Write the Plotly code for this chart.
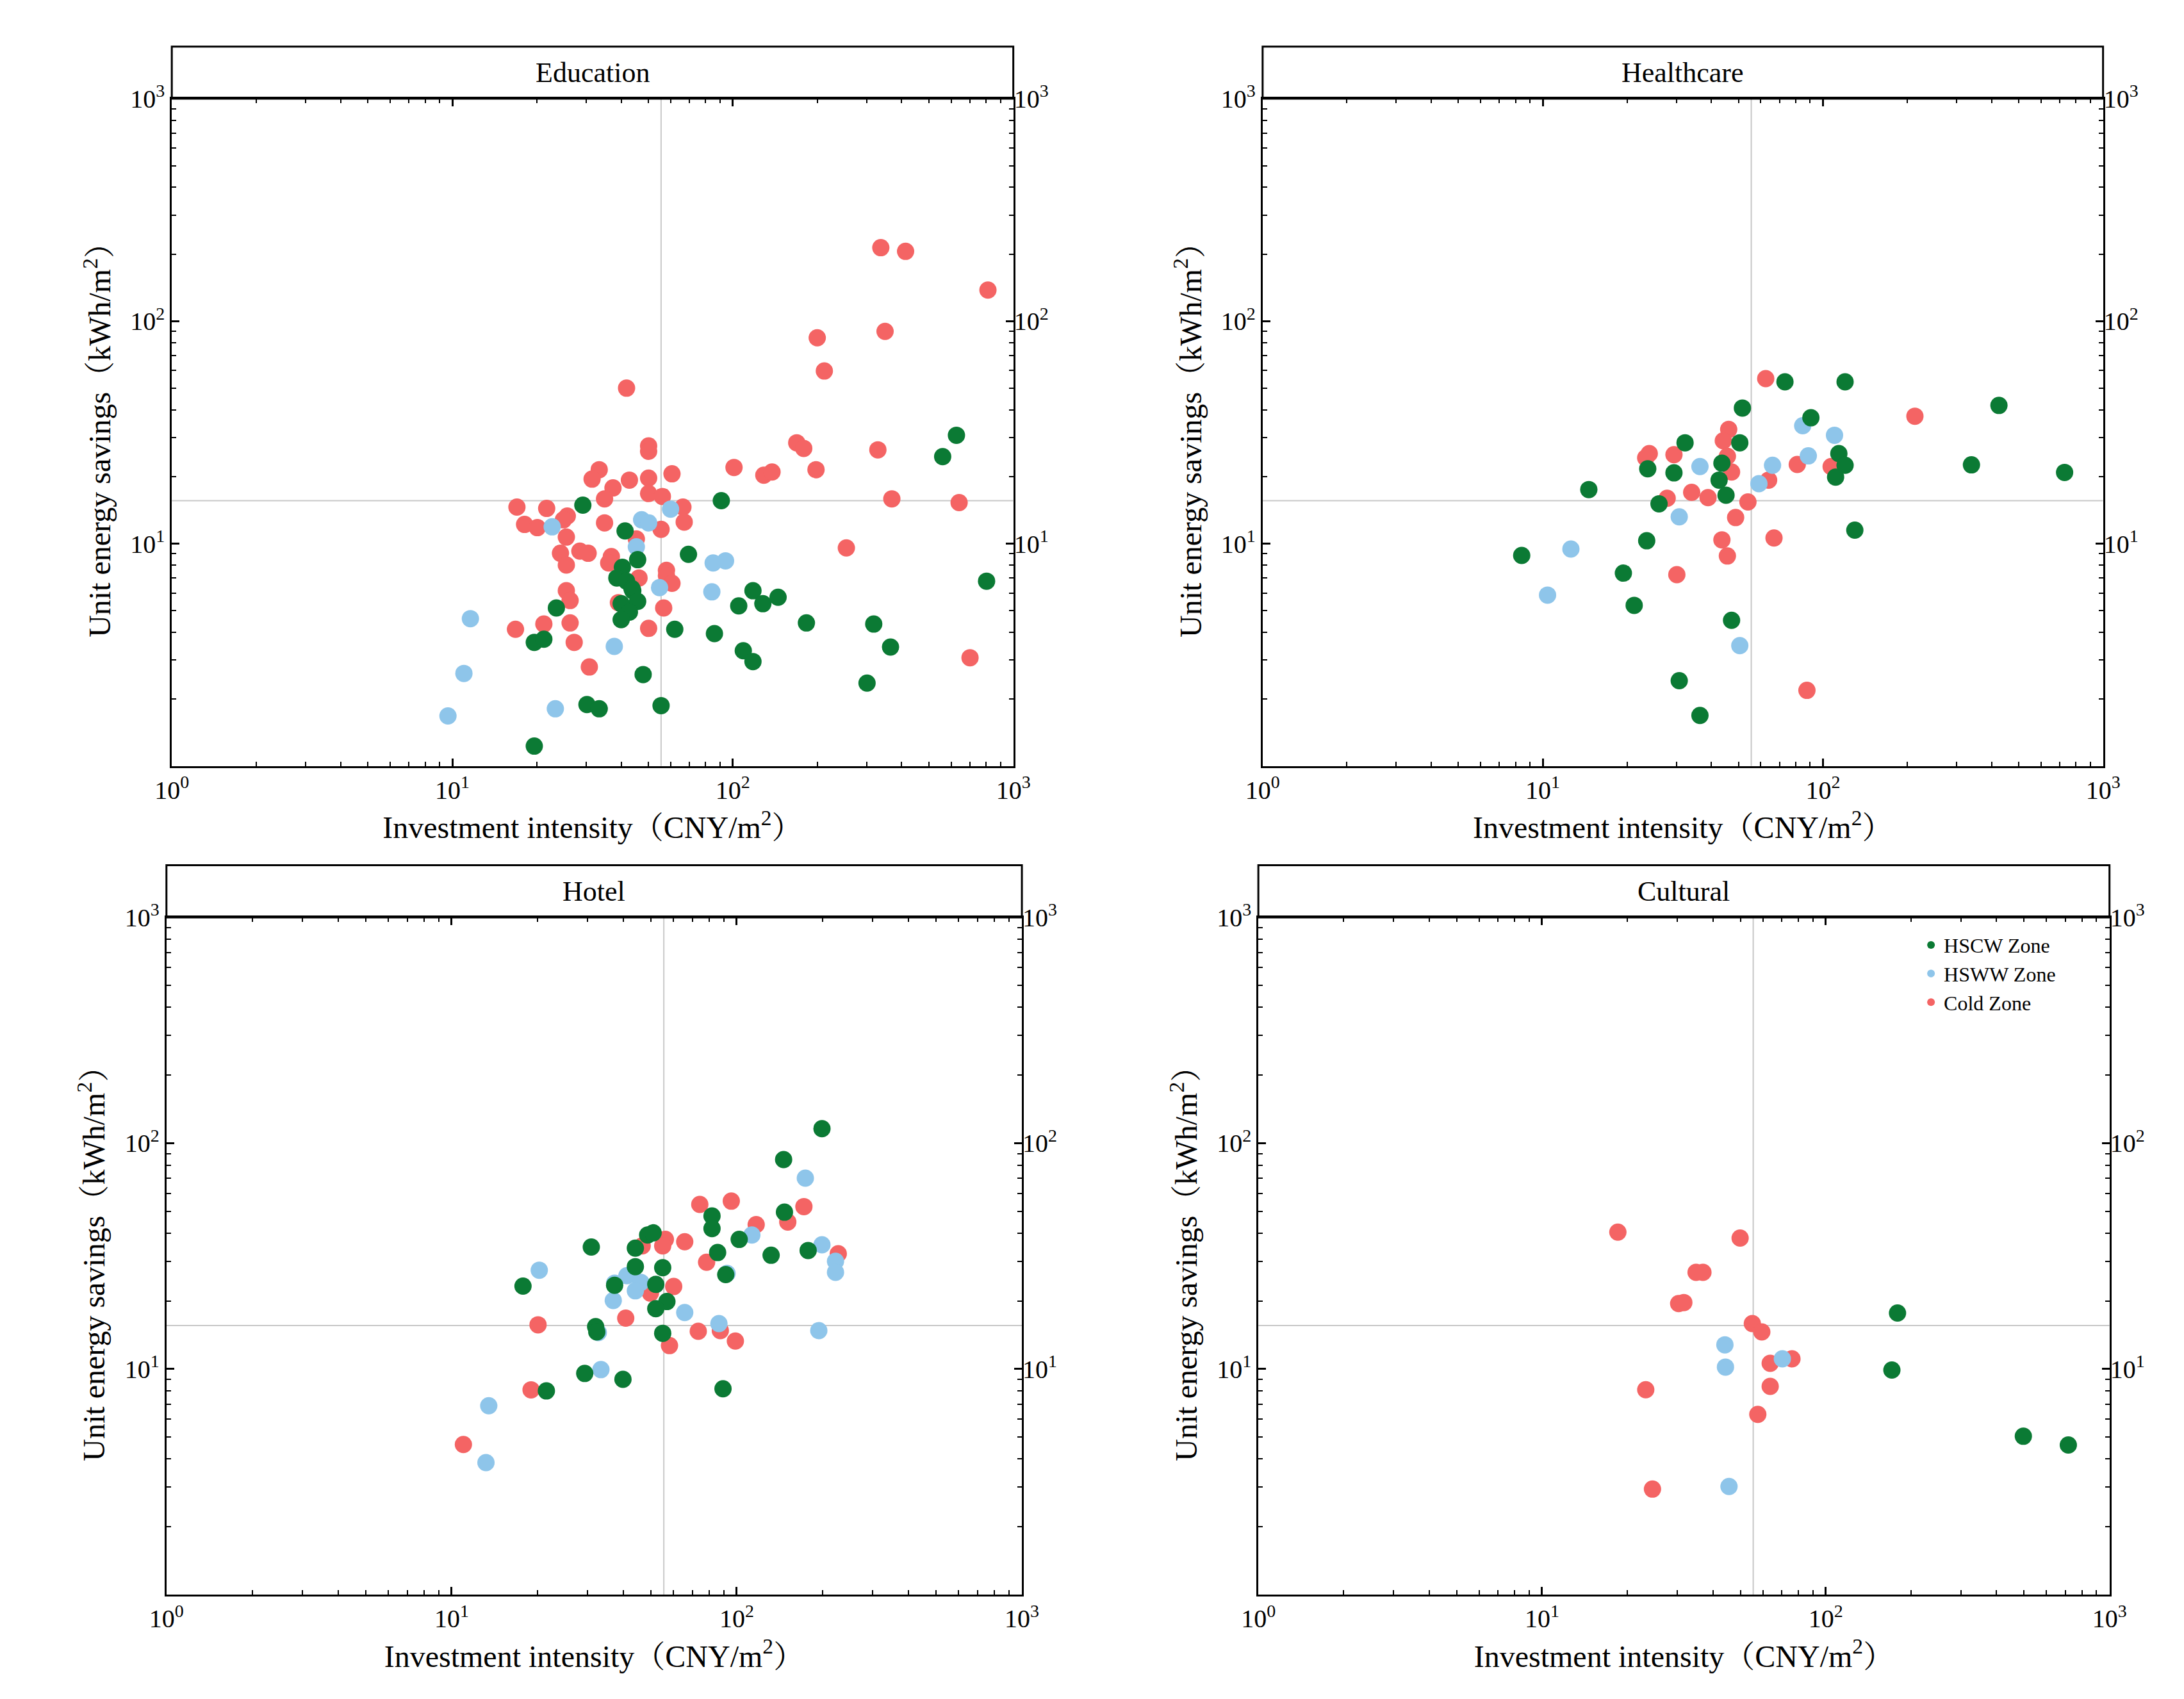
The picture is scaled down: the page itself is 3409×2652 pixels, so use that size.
import plotly.graph_objects as go

# ---- data (x: CNY/m2, y: kWh/m2) ----
edu_cold_x = [337, 413, 812, 200, 349, 212, 41.8, 169, 179, 50.1, 50.1, 329, 101, 198, 129, 138, 33.4, 31.5, 42.8, 50.1,
              60.7, 37.4, 50.1, 56.1, 34.9, 369, 641, 17.0, 21.7, 66.4, 25.7, 24.9, 18.1, 20.1, 34.9, 55.5, 67.1, 25.5,
              45.3, 24.3, 28.5, 30.5, 36.9, 36.1, 25.5, 58.0, 46.3, 58.0, 60.7, 25.5, 26.3, 39.1, 56.7, 21.2, 26.3, 16.8,
              50.1, 27.2, 30.8, 254, 701]
edu_cold_y = [214, 206, 138, 84.2, 90, 59.7, 50, 28.4, 26.8, 27.5, 26.0, 26.4, 22.0, 21.5, 20.3, 21.0, 21.5, 19.5, 19.3, 19.7,
              20.6, 17.8, 16.8, 16.3, 15.9, 15.9, 15.3, 14.6, 14.4, 14.6, 13.3, 12.8, 12.2, 11.8, 12.4, 11.6, 12.5, 10.7,
              10.5, 9.05, 9.25, 9.05, 8.75, 8.19, 8.01, 7.58, 7.01, 7.17, 6.63, 6.14, 5.55, 5.43, 5.14, 4.35, 4.40, 4.12,
              4.16, 3.60, 2.79, 9.57, 3.07]
edu_hscw_x = [29.2, 91, 41.3, 69.5, 45.8, 40.4, 38.6, 41.8, 43.7, 44, 118, 145, 128, 105, 40, 45.8, 23.5, 42.8, 40, 183,
              318, 62.1, 86, 19.6, 21.2, 109, 118, 365, 47.9, 301, 30.2, 33.4, 55.5, 19.6, 627, 560, 803]
edu_hscw_y = [14.9, 15.6, 11.4, 8.95, 8.47, 7.83, 7.01, 6.78, 6.28, 6.14, 6.14, 5.74, 5.37, 5.25, 5.37, 5.5, 5.14, 4.92, 4.55, 4.40,
              4.35, 4.12, 3.94, 3.60, 3.72, 3.30, 2.95, 3.43, 2.58, 2.36, 1.89, 1.81, 1.87, 1.23, 30.7, 24.6, 6.78]
edu_hsww_x = [22.7, 47.3, 50.1, 60, 45.3, 85.1, 94.2, 54.8, 84.2, 11.6, 37.8, 11.0, 23.3, 9.65]
edu_hsww_y = [11.9, 12.8, 12.4, 14.3, 9.68, 8.19, 8.37, 6.34, 6.07, 4.60, 3.45, 2.61, 1.81, 1.68]

hc_cold_x = [62.5, 213, 46.1, 44.1, 24, 23.3, 29.4, 45.6, 47.2, 81, 107, 64, 34, 38.9, 27.8, 54, 48.8, 43.6, 66.9, 45.6,
             30.1, 87.7]
hc_cold_y = [55.2, 37.4, 32.6, 29.0, 25.4, 24.3, 25.1, 24.7, 21.0, 22.7, 22.2, 19.3, 17.0, 16.1, 16.0, 15.4, 13.1, 10.4, 10.6, 8.8,
             7.25, 2.19]
hc_hscw_x = [73.2, 120, 51.6, 425, 90.6, 32.2, 50.5, 114, 23.7, 43.6, 120, 339, 29.4, 729, 111, 42.6, 14.6, 45.1, 26, 130,
             23.5, 8.41, 19.4, 21.2, 47.2, 30.7, 36.4]
hc_hscw_y = [53.4, 53.4, 40.7, 41.8, 36.8, 28.4, 28.4, 25.4, 21.7, 23.0, 22.5, 22.6, 20.8, 20.9, 19.9, 19.3, 17.5, 16.5, 15.1, 11.5,
             10.3, 8.85, 7.37, 5.28, 4.52, 2.42, 1.69]
hc_hsww_x = [84.7, 110, 88.7, 36.4, 66.1, 59.1, 30.7, 12.6, 10.4, 50.5]
hc_hsww_y = [33.9, 30.7, 24.8, 22.2, 22.5, 18.6, 13.2, 9.46, 5.87, 3.48]

ho_cold_x = [74.2, 95.7, 172, 117, 151, 56.2, 65.7, 46.6, 55, 227, 78.4, 60.1, 49.8, 40.8, 20.1, 73.3, 87.6, 98.9, 58.1, 19.0,
             11.0]
ho_cold_y = [53.6, 55.4, 52.4, 43.6, 44.8, 37.5, 36.6, 35.1, 35.1, 32.4, 29.7, 23.2, 21.7, 16.8, 15.7, 14.7, 14.8, 13.3, 12.7, 8.09,
             4.63]
ho_hscw_x = [199, 146, 147, 81.9, 81.9, 48.7, 50.9, 102, 30.9, 44.1, 85.7, 132, 178, 44.1, 55, 91.5, 37.3, 52, 17.8, 56.9,
             52, 32, 32.3, 55, 29.3, 39.9, 21.5, 89.5]
ho_hscw_y = [116, 84.6, 49.5, 47.6, 41.9, 39.2, 40.1, 37.5, 34.7, 34.3, 32.8, 31.9, 33.5, 28.4, 28.1, 26.2, 23.5, 23.7, 23.3, 19.9,
             18.5, 15.4, 14.6, 14.4, 9.56, 9.0, 8.0, 8.18]
ho_hsww_x = [174, 199, 222, 222, 20.3, 113, 41.2, 37.3, 46.1, 44.1, 36.9, 65.7, 86.6, 194, 32.7, 92.5, 33.4, 13.5, 13.2]
ho_hsww_y = [70, 35.5, 30, 26.8, 27.4, 39.2, 25.9, 24, 24.2, 22.2, 20.1, 17.8, 15.9, 14.8, 14.5, 26.5, 9.94, 6.88, 3.85]

cu_cold_x = [18.5, 49.9, 34.9, 36.9, 30.3, 31.6, 55.1, 59.5, 76, 63.7, 63.7, 23.2, 57.6, 24.5]
cu_cold_y = [40.4, 38, 26.8, 26.8, 19.5, 19.7, 15.9, 14.6, 11.1, 10.6, 8.38, 8.1, 6.3, 2.94]
cu_hscw_x = [179, 171, 497, 716]
cu_hscw_y = [17.7, 9.9, 5.04, 4.61]
cu_hsww_x = [44.1, 44.3, 70.3, 45.6]
cu_hsww_y = [12.8, 10.2, 11.1, 3.02]

ref_x = 55.5
ref_y = 15.6

zones = ["HSCW Zone", "HSWW Zone", "Cold Zone"]
zone_colors = {"HSCW Zone": "#0b7a34", "HSWW Zone": "#8ec5ea", "Cold Zone": "#f46464"}
panels = [
    ("Education", {"HSCW Zone": (edu_hscw_x, edu_hscw_y), "HSWW Zone": (edu_hsww_x, edu_hsww_y), "Cold Zone": (edu_cold_x, edu_cold_y)}),
    ("Healthcare", {"HSCW Zone": (hc_hscw_x, hc_hscw_y), "HSWW Zone": (hc_hsww_x, hc_hsww_y), "Cold Zone": (hc_cold_x, hc_cold_y)}),
    ("Hotel", {"HSCW Zone": (ho_hscw_x, ho_hscw_y), "HSWW Zone": (ho_hsww_x, ho_hsww_y), "Cold Zone": (ho_cold_x, ho_cold_y)}),
    ("Cultural", {"HSCW Zone": (cu_hscw_x, cu_hscw_y), "HSWW Zone": (cu_hsww_x, cu_hsww_y), "Cold Zone": (cu_cold_x, cu_cold_y)}),
]

# paper domains: (x0, x1, y0, y1, strip top)
domains = [
    (0.0695, 0.461, 0.558, 0.955, 0.986),
    (0.577, 0.968, 0.558, 0.955, 0.986),
    (0.067, 0.465, 0.065, 0.468, 0.499),
    (0.575, 0.971, 0.065, 0.468, 0.499),
]

FONT = "Liberation Serif, Noto Serif CJK SC, Noto Sans CJK SC, serif"
x_tickvals = [1, 10, 100, 1000]
x_ticktext = ["10<sup>0</sup>", "10<sup>1</sup>", "10<sup>2</sup>", "10<sup>3</sup>"]
y_tickvals = [10, 100, 1000]
y_ticktext = ["10<sup>1</sup>", "10<sup>2</sup>", "10<sup>3</sup>"]
minor_vals = [m * 10 ** e for e in range(3) for m in range(2, 10)]

fig = go.Figure()
layout = {}
shapes = []
annotations = []

for i, (name, data) in enumerate(panels):
    n = i + 1
    xa, ya = f"x{n}", f"y{n}"
    x0, x1, y0, y1, ys = domains[i]

    # reference lines
    fig.add_trace(go.Scatter(x=[ref_x, ref_x], y=[1, 1000], mode="lines", xaxis=xa, yaxis=ya,
                             line=dict(color="#c8c8c8", width=2), showlegend=False, hoverinfo="skip"))
    fig.add_trace(go.Scatter(x=[1, 1000], y=[ref_y, ref_y], mode="lines", xaxis=xa, yaxis=ya,
                             line=dict(color="#c8c8c8", width=2), showlegend=False, hoverinfo="skip"))

    for z in ["Cold Zone", "HSWW Zone", "HSCW Zone"]:
        xs, yv = data[z]
        fig.add_trace(go.Scatter(
            x=xs, y=yv, mode="markers", name=z, xaxis=xa, yaxis=ya,
            legendrank=zones.index(z),
            showlegend=(name == "Cultural"),
            marker=dict(size=27, color=zone_colors[z], line=dict(width=0)),
        ))

    axis_common = dict(type="log", range=[0, 3], showgrid=False, zeroline=False,
                       showline=True, linecolor="black", linewidth=3,
                       ticks="inside", ticklen=12, tickwidth=2.5, tickcolor="black",
                       tickfont=dict(family=FONT, size=40, color="black"),
                       minor=dict(tickvals=minor_vals, ticks="inside", ticklen=7, tickwidth=2, tickcolor="black"))

    layout[f"xaxis{n}"] = dict(axis_common, domain=[x0, x1], anchor=ya, mirror="ticks",
                               tickvals=x_tickvals, ticktext=x_ticktext,
                               title=dict(text="Investment intensity（CNY/m<sup>2</sup>）", standoff=20,
                                          font=dict(family=FONT, size=48, color="black")))
    layout[f"yaxis{n}"] = dict(axis_common, domain=[y0, y1], anchor=xa, mirror="ticks",
                               tickvals=y_tickvals, ticktext=y_ticktext,
                               title=dict(text="Unit energy savings（kWh/m<sup>2</sup>）", standoff=16,
                                          font=dict(family=FONT, size=48, color="black")))
    # right-hand labels
    r = n + 4
    layout[f"yaxis{r}"] = dict(axis_common, overlaying=ya, side="right", anchor=xa, showline=False,
                               tickvals=y_tickvals, ticktext=y_ticktext)
    fig.add_trace(go.Scatter(x=[None], y=[None], xaxis=xa, yaxis=f"y{r}", showlegend=False, hoverinfo="skip"))

    # strip header
    shapes.append(dict(type="rect", xref="paper", yref="paper", x0=x0, x1=x1, y0=y1, y1=ys,
                       line=dict(color="black", width=3), fillcolor="rgba(0,0,0,0)"))
    annotations.append(dict(text=name, xref="paper", yref="paper", x=(x0 + x1) / 2, y=(y1 + ys) / 2,
                            xanchor="center", yanchor="middle",
                            showarrow=False, font=dict(family=FONT, size=44, color="black")))

fig.update_layout(
    **layout,
    shapes=shapes,
    annotations=annotations,
    width=3409, height=2652,
    margin=dict(l=0, r=0, t=0, b=0),
    paper_bgcolor="white", plot_bgcolor="white",
    font=dict(family=FONT, color="black"),
    legend=dict(x=0.882, y=0.462, xanchor="left", yanchor="top", bgcolor="rgba(0,0,0,0)",
                font=dict(family=FONT, size=32, color="black"), itemsizing="constant", tracegroupgap=8),
)

fig.write_html("out.html")
